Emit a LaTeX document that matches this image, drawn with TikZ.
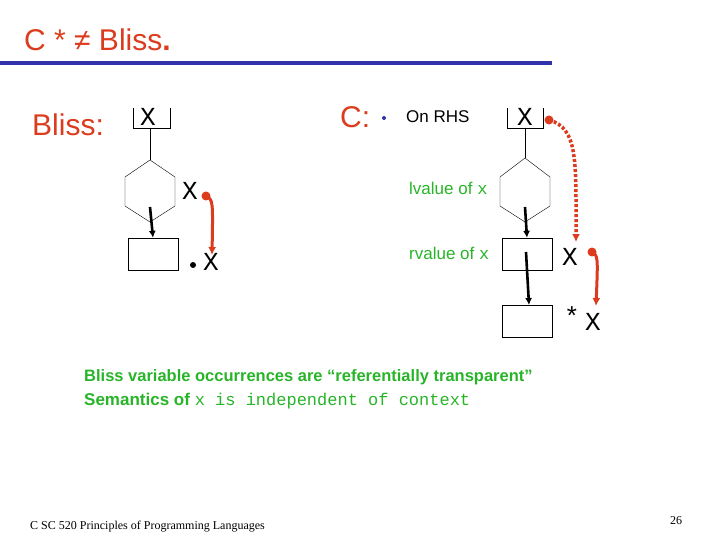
\documentclass[tikz,border=0pt]{standalone}
\usepackage{fontspec}
\setmainfont{Liberation Sans}
\setmonofont{Liberation Mono}
\newfontfamily\serifb{Liberation Serif}
\usetikzlibrary{arrows.meta}
\definecolor{tred}{RGB}{220,60,30}
\definecolor{tblue}{RGB}{50,50,170}
\definecolor{tgreen}{RGB}{40,180,40}
\begin{document}
\begin{tikzpicture}[x=1pt,y=-1pt,
  box/.style={draw,thin,minimum width=50pt,minimum height=32pt,inner sep=0},
  thk/.style={line width=2.6pt,-{Latex[length=7pt,width=7pt]}},
  red/.style={tred,line width=3pt,-{Latex[length=8pt,width=8pt]}},
  var/.style={font=\ttfamily\fontsize{26}{26}\selectfont,inner sep=0},
  lbl/.style={font=\fontsize{17}{17}\selectfont,inner sep=0,anchor=west}]
\useasboundingbox (0,0) rectangle (720,540);
\node[tred,font=\fontsize{30}{30}\selectfont,anchor=west,inner sep=0] (title) at (24,40) {C * ≠ Bliss\textbf{.}};
\draw[tblue,line width=4pt] (0,63) coordinate (l1) -- (552,63) coordinate (l2);
% Bliss
\node[tred,font=\fontsize{30}{30}\selectfont,anchor=west,inner sep=0] (bl) at (32,125) {Bliss:};
\draw (133,108) -- (133,128) -- (170,128) -- (170,108);
\node[var] (bx) at (148,117) {X};
\coordinate (bh) at (150,160);
\draw (150,128) -- (bh);
\draw (bh) -- (125,177) -- (125,206) -- (150,222) -- (175,206) -- (175,177) -- cycle;
\node[box] (bb) at (153,254) {};
\draw[thk] (150,207) -- (bb.north);
\node[var] (bx2) at (190,191) {X};
\fill[tred] (206,196) circle (4.5pt);
\draw[red] (206,196) .. controls (213,200) .. (212,255);
\fill (193,265) circle (3pt);
\node[var] (bx3) at (211,262) {X};
% C
\node[tred,font=\fontsize{30}{30}\selectfont,anchor=west,inner sep=0] (cl) at (340,117) {C:};
\fill[tblue] (384,118) circle (2pt);
\node[lbl] (rhs) at (406,117) {On RHS};
\draw (507,108) -- (507,128) -- (543,128) -- (543,108);
\node[var] (cx) at (525,117) {X};
\coordinate (ch) at (525,158);
\draw (525,128) -- (ch);
\draw (ch) -- (500,177) -- (500,206) -- (525,222) -- (550,206) -- (550,177) -- cycle;
\node[box] (cb1) at (527,254) {};
\node[box] (cb2) at (527,321) {};
\coordinate (cb2t) at (529,305);
\draw[thk] (525,207) -- (cb1.north);
\draw[thk] (526,252) -- (cb2t);
\node[lbl,tgreen] (lv) at (409,188) {lvalue of \texttt{\fontsize{17}{17}\selectfont x}};
\node[lbl,tgreen] (rv) at (409,253) {rvalue of \texttt{\fontsize{17}{17}\selectfont x}};
\node[var] (cx2) at (570,257) {X};
\fill[tred] (549,120) circle (4.5pt);
\draw[red,dotted,line width=3.5pt] (549,120) .. controls (578,128) and (576,160) .. (576,242);
\fill[tred] (592,252) circle (4.5pt);
\draw[red] (592,252) .. controls (598,256) .. (596,306);
\node[var] (star) at (572,316) {*};
\node[var] (cx3) at (593,322) {X};
% bottom text
\node[lbl,tgreen,font=\fontsize{16.5}{17}\selectfont\bfseries] (t1) at (84,377) {Bliss variable occurrences are ``referentially transparent”};
\node[lbl,tgreen] (t2) at (84,401) {\textbf{Semantics of} \texttt{\fontsize{17}{17}\selectfont x is independent of context}};
\node[anchor=west,font=\serifb\fontsize{12}{12}\selectfont,inner sep=0] (ft) at (30,527) {C SC 520 Principles of Programming Languages};
\node[font=\serifb\fontsize{12}{12}\selectfont,inner sep=0] (pg) at (676,521) {26};
\end{tikzpicture}
\end{document}
